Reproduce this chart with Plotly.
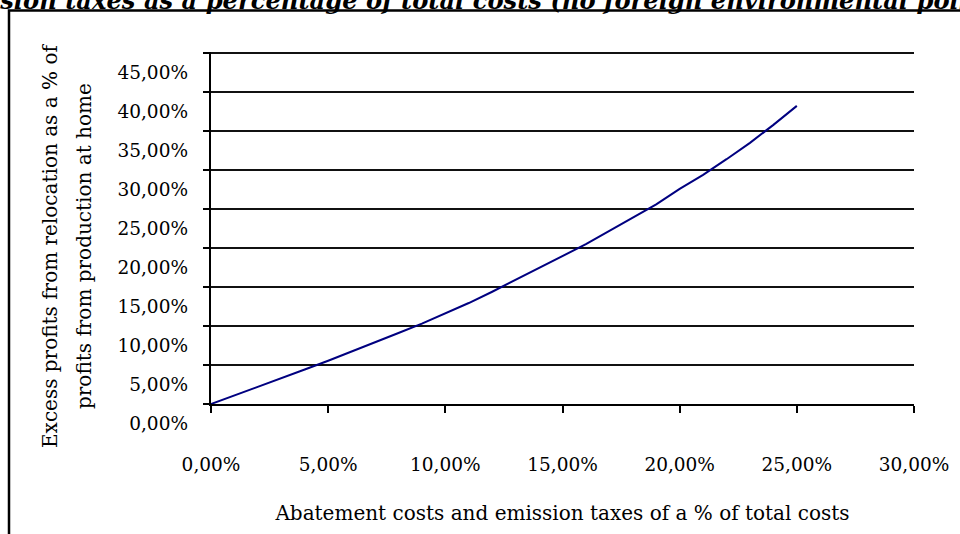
import plotly.graph_objects as go

# ---- data ----
abatement_pct = [0, 1, 2, 3, 4, 5, 6, 7, 8, 9, 10, 11, 12, 13, 14, 15, 16, 17,
                 18, 19, 20, 21, 22, 23, 24, 25]
excess_profit_pct = [0, 1.08, 2.18, 3.3, 4.42, 5.55, 6.7, 7.9, 9.1, 10.3, 11.6,
                     12.95, 14.4, 15.9, 17.4, 18.9, 20.5, 22.2, 23.85, 25.6, 27.6,
                     29.4, 31.4, 33.5, 35.8, 38.24]

x_tick_vals = [0, 5, 10, 15, 20, 25, 30]
x_tick_text = ["0,00%", "5,00%", "10,00%", "15,00%", "20,00%", "25,00%", "30,00%"]
y_grid_vals = [0, 5, 10, 15, 20, 25, 30, 35, 40, 45]
y_tick_text = ["0,00%", "5,00%", "10,00%", "15,00%", "20,00%", "25,00%", "30,00%",
               "35,00%", "40,00%", "45,00%"]
y_label_vals = [v - 2.5 for v in y_grid_vals]  # labels sit half a step below grid lines

title_text = ("Excess profits from relocation depending on abatement costs and "
              "emission taxes as a percentage of total costs (no foreign environmental policy)")
x_title = "Abatement costs and emission taxes of a % of total costs"
y_title_1 = "Excess profits from relocation as a % of"
y_title_2 = "profits from production at home"

# ---- layout geometry (pixels) ----
W, H = 960, 534
L, R, T, B = 211, 46, 52, 91
PW, PH = W - L - R, H - T - B


def px(x):
    return (x - L) / PW


def py(y):
    return (H - B - y) / PH


FONT = "DejaVu Serif"
Y_TOP = 45.15  # a hair above 45 so the top grid line is drawn

fig = go.Figure()
fig.add_trace(go.Scatter(
    x=abatement_pct, y=excess_profit_pct, mode="lines",
    line=dict(color="#000080", width=2), showlegend=False, hoverinfo="skip",
))
# helper axis only carrying the (offset) y tick labels
fig.add_trace(go.Scatter(x=[None], y=[None], yaxis="y2", showlegend=False,
                         hoverinfo="skip"))

fig.update_layout(
    width=W, height=H,
    margin=dict(l=L, r=R, t=T, b=B, pad=0),
    paper_bgcolor="white", plot_bgcolor="rgba(0,0,0,0)",
    font=dict(family=FONT, color="black", size=18.5),
    showlegend=False,
    xaxis=dict(
        range=[0, 30], domain=[0, 1], anchor="y",
        tickvals=x_tick_vals, ticktext=x_tick_text,
        ticks="outside", ticklen=7, tickwidth=2, tickcolor="black",
        showline=True, linecolor="black", linewidth=2,
        showgrid=False, zeroline=False,
        ticklabelstandoff=36,
        tickfont=dict(family=FONT, size=18.5, color="black"),
        title=dict(text=x_title, font=dict(family=FONT, size=20, color="black"),
                   standoff=32),
    ),
    yaxis=dict(
        range=[0, Y_TOP], domain=[py(404), 1], anchor="x",
        tickvals=y_grid_vals, showticklabels=False,
        ticks="outside", ticklen=6, tickwidth=2, tickcolor="black",
        showline=True, linecolor="black", linewidth=2,
        showgrid=True, gridcolor="#111", gridwidth=2, zeroline=False,
    ),
    yaxis2=dict(
        range=[-5, Y_TOP], domain=[0, 1], anchor="x", side="left",
        tickvals=y_label_vals, ticktext=y_tick_text,
        ticks="", showline=False, showgrid=False, zeroline=False,
        ticklabelstandoff=22,
        tickfont=dict(family=FONT, size=18.5, color="black"),
    ),
    shapes=[dict(type="rect", xref="paper", yref="paper",
                 x0=px(9), x1=px(990), y0=py(10.5), y1=py(560),
                 line=dict(color="black", width=2.5), fillcolor="rgba(0,0,0,0)")],
    annotations=[
        dict(text=title_text, xref="paper", yref="paper", x=px(1010), y=py(17.5),
             xanchor="right", yanchor="bottom", showarrow=False,
             font=dict(family=FONT, size=24.2, color="black", weight="bold", style="italic")),
        dict(text=y_title_1, xref="paper", yref="paper", x=px(50), y=py(246),
             xanchor="center", yanchor="middle", textangle=-90, showarrow=False,
             font=dict(family=FONT, size=20, color="black")),
        dict(text=y_title_2, xref="paper", yref="paper", x=px(84), y=py(246),
             xanchor="center", yanchor="middle", textangle=-90, showarrow=False,
             font=dict(family=FONT, size=20, color="black")),
    ],
)

fig.write_html("out.html")
